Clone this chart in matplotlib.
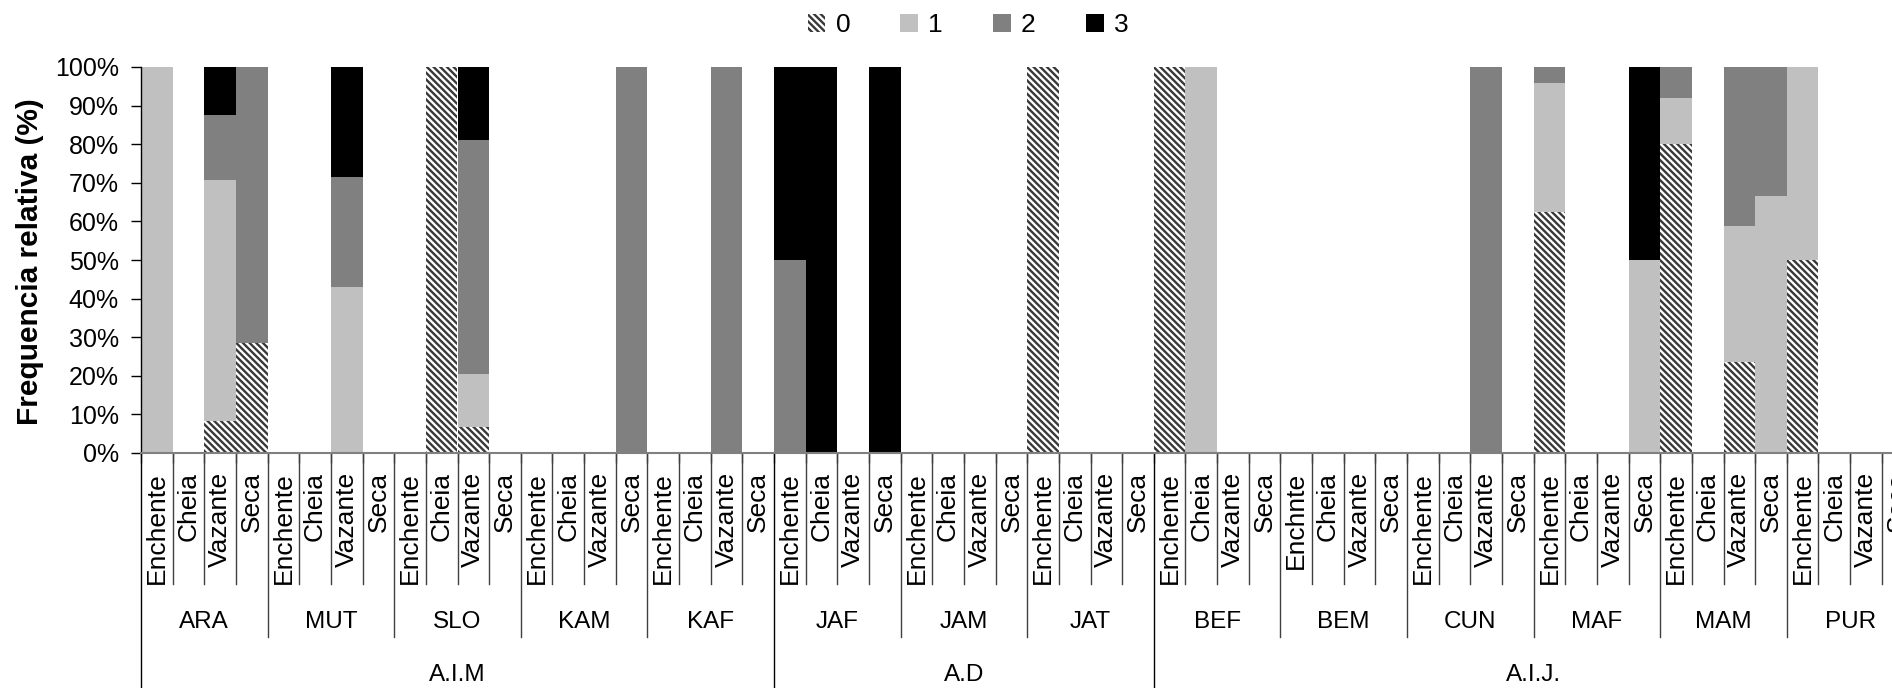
import numpy as np
import matplotlib
matplotlib.use("Agg")
import matplotlib.pyplot as plt
from matplotlib.ticker import MultipleLocator, PercentFormatter

# -------- Data (% per class, 4 seasons per site) --------
regions = ['A.I.M', 'A.D', 'A.I.J.']
region_sizes = [5, 3, 6]   # number of sites in each region
sites = ['ARA', 'MUT', 'SLO', 'KAM', 'KAF', 'JAF', 'JAM', 'JAT',
         'BEF', 'BEM', 'CUN', 'MAF', 'MAM', 'PUR']
seasons = ['Enchente', 'Cheia', 'Vazante', 'Seca']
class_names = ['0', '1', '2', '3']

#              Ench  Cheia Vaz   Seca
cls0 = [0,    0,    8.3,  28.6,    # ARA
        0,    0,    0,    0,       # MUT
        0,    100,  6.7,  0,       # SLO
        0,    0,    0,    0,       # KAM
        0,    0,    0,    0,       # KAF
        0,    0,    0,    0,       # JAF
        0,    0,    0,    0,       # JAM
        100,  0,    0,    0,       # JAT
        100,  0,    0,    0,       # BEF
        0,    0,    0,    0,       # BEM
        0,    0,    0,    0,       # CUN
        62.5, 0,    0,    0,       # MAF
        80,   0,    23.5, 0,       # MAM
        50,   0,    0,    0]       # PUR
cls1 = [100,  0,    62.5, 0,
        0,    0,    42.9, 0,
        0,    0,    13.7, 0,
        0,    0,    0,    0,
        0,    0,    0,    0,
        0,    0,    0,    0,
        0,    0,    0,    0,
        0,    0,    0,    0,
        0,    100,  0,    0,
        0,    0,    0,    0,
        0,    0,    0,    0,
        33.3, 0,    0,    50,
        12,   0,    35.3, 66.7,
        50,   0,    0,    0]
cls2 = [0,    0,    16.7, 71.4,
        0,    0,    28.6, 0,
        0,    0,    60.7, 0,
        0,    0,    0,    100,
        0,    0,    100,  0,
        50,   0,    0,    0,
        0,    0,    0,    0,
        0,    0,    0,    0,
        0,    0,    0,    0,
        0,    0,    0,    0,
        0,    0,    100,  0,
        4.2,  0,    0,    0,
        8,    0,    41.2, 33.3,
        0,    0,    0,    0]
cls3 = [0,    0,    12.5, 0,
        0,    0,    28.5, 0,
        0,    0,    18.9, 0,
        0,    0,    0,    0,
        0,    0,    0,    0,
        50,   100,  0,    100,
        0,    0,    0,    0,
        0,    0,    0,    0,
        0,    0,    0,    0,
        0,    0,    0,    0,
        0,    0,    0,    0,
        0,    0,    0,    50,
        0,    0,    0,    0,
        0,    0,    0,    0]

season_labels = seasons * len(sites)
season_labels[4 * sites.index('BEM')] = 'Enchnte'   # as in the original

# -------- Figure --------
plt.rcParams['font.family'] = ['Liberation Sans', 'DejaVu Sans']
plt.rcParams['hatch.color'] = '#383838'
plt.rcParams['hatch.linewidth'] = 1.7

W, H = 1892, 688
fig = plt.figure(figsize=(W / 100, H / 100), dpi=100)
n = len(season_labels)
x_left, y_bot, y_top, cat_w = 141, 453, 67, 31.65
ax_h = y_bot - y_top
ax = fig.add_axes([x_left / W, 1 - y_bot / H, n * cat_w / W, ax_h / H])

x = np.arange(n)
bottom = np.zeros(n)
styles = [dict(facecolor='white', edgecolor='#383838', hatch='\\' * 5),
          dict(facecolor='#c0c0c0', edgecolor='#c0c0c0'),
          dict(facecolor='#808080', edgecolor='#808080'),
          dict(facecolor='black', edgecolor='black')]
for vals, st, name in zip([cls0, cls1, cls2, cls3], styles, class_names):
    vals = np.array(vals, dtype=float)
    ax.bar(x, vals, width=1.0, bottom=bottom, linewidth=0, label=name, **st)
    bottom += vals

ax.set_xlim(-0.5, n - 0.5)
ax.set_ylim(0, 100)
ax.yaxis.set_major_locator(MultipleLocator(10))
ax.yaxis.set_major_formatter(PercentFormatter(decimals=0))
ax.tick_params(axis='y', length=7, width=1, labelsize=18, pad=9)
ax.set_xticks([])
ax.set_xticks(np.arange(-0.5, n, 1), minor=True)
ax.tick_params(axis='x', which='minor', length=7, width=1, color='#404040',
               labelbottom=False)
for s in ['top', 'right']:
    ax.spines[s].set_visible(False)
ax.spines['left'].set_color('black')
ax.spines['left'].set_linewidth(1)
ax.spines['bottom'].set_color('#808080')
ax.spines['bottom'].set_linewidth(1.5)

# -------- Multi-level category axis --------
trans = ax.get_xaxis_transform()
region_edges = np.cumsum([0] + [4 * k for k in region_sizes]) - 0.5
for b in np.arange(-0.5, n, 1):
    if np.any(np.isclose(region_edges, b)):
        ylow, col = -1.0, 'black'
    elif int(b + 0.5) % 4 == 0:
        ylow, col = -(637 - y_bot) / ax_h, '#404040'
    else:
        ylow, col = -(584 - y_bot) / ax_h, '#404040'
    ax.plot([b, b], [0, ylow], transform=trans, color=col, lw=1, clip_on=False)

for i, lab in enumerate(season_labels):
    ax.text(i, -19 / ax_h, lab, transform=trans, rotation=90,
            ha='center', va='top', fontsize=19)
for g, site in enumerate(sites):
    ax.text(4 * g + 1.5, -(622 - y_bot) / ax_h, site, transform=trans,
            ha='center', va='center', fontsize=17.5)
for r, name in enumerate(regions):
    mid = (region_edges[r] + region_edges[r + 1]) / 2
    ax.text(mid, -(675 - y_bot) / ax_h, name, transform=trans,
            ha='center', va='center', fontsize=17.5)

fig.text(30 / W, 1 - 262 / H, 'Frequencia relativa (%)', rotation=90,
         ha='center', va='center', fontsize=21.5, fontweight='bold')

fig.legend(loc='center', bbox_to_anchor=(968 / W, 1 - 25 / H), ncol=4,
           frameon=False, fontsize=19, handlelength=0.68, handleheight=0.68,
           handletextpad=0.38, columnspacing=1.9)

fig.savefig('out.png', dpi=100)
